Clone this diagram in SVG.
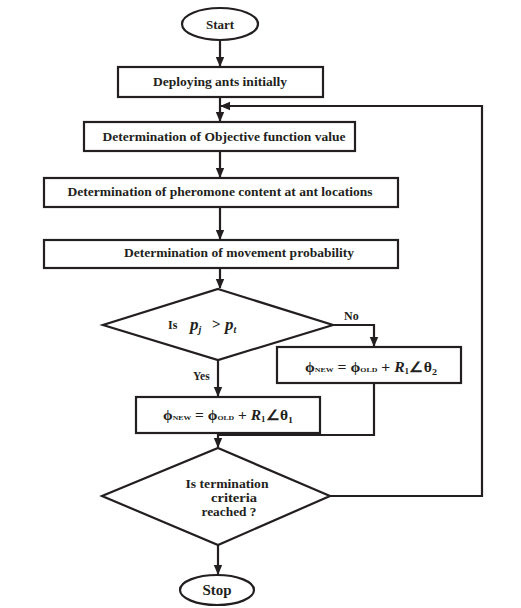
<svg xmlns="http://www.w3.org/2000/svg" width="521" height="608" viewBox="0 0 521 608">
<defs>
<marker id="ah" markerWidth="10" markerHeight="10" refX="9" refY="5" orient="auto" markerUnits="userSpaceOnUse">
<path d="M0,0.8 L10,5 L0,9.2 Z" fill="#231f20"/>
</marker>
<style>
.s{fill:#fff;stroke:#231f20;stroke-width:2.2}
.t{font-family:"Liberation Serif","Times New Roman",serif;font-weight:bold;font-size:11.5px;fill:#231f20;text-anchor:middle}
.c{fill:none;stroke:#231f20;stroke-width:2.2}
.m{font-family:"Liberation Serif","Times New Roman",serif;font-weight:bold;fill:#231f20}
</style>
</defs>
<rect width="521" height="608" fill="#fff"/>
<g id="connectors">
<path class="c" d="M220,40 V66" marker-end="url(#ah)"/>
<path class="c" d="M220,97 V121" marker-end="url(#ah)"/>
<path class="c" d="M220,151 V177" marker-end="url(#ah)"/>
<path class="c" d="M220,207 V239" marker-end="url(#ah)"/>
<path class="c" d="M220,268 V288" marker-end="url(#ah)"/>
<path class="c" d="M333,325 H374 V346" marker-end="url(#ah)"/>
<path class="c" d="M218,360 V396" marker-end="url(#ah)"/>
<path class="c" d="M374,383 V435 H218"/>
<path class="c" d="M218,433 V447" marker-end="url(#ah)"/>
<path class="c" d="M218,545 V574" marker-end="url(#ah)"/>
<path class="c" d="M330,496 H482 V106 H221" marker-end="url(#ah)"/>
</g>
<g id="start">
<ellipse class="s" cx="220" cy="24" rx="38" ry="16"/>
<text class="t" x="220" y="28.5" style="font-size:13px">Start</text>
</g>
<g id="deploy">
<rect class="s" x="118" y="67" width="205" height="30"/>
<text class="t" x="220" y="86" textLength="134" lengthAdjust="spacingAndGlyphs">Deploying ants initially</text>
</g>
<g id="objective">
<rect class="s" x="84" y="122" width="271" height="29"/>
<text class="t" x="224" y="141" textLength="243" lengthAdjust="spacingAndGlyphs">Determination of Objective function value</text>
</g>
<g id="pheromone">
<rect class="s" x="44" y="178" width="354" height="29"/>
<text class="t" x="220" y="196" textLength="305" lengthAdjust="spacingAndGlyphs">Determination of pheromone content at ant locations</text>
</g>
<g id="movement">
<rect class="s" x="44" y="240" width="354" height="28"/>
<text class="t" x="239" y="257" textLength="230" lengthAdjust="spacingAndGlyphs">Determination of movement probability</text>
</g>
<g id="decision1">
<polygon class="s" points="218,289 333,325 218,360 103,325"/>
<text class="m" x="168" y="329" font-size="12">Is</text>
<text class="m" x="190" y="330" font-size="17" font-style="italic">p<tspan font-size="10" dy="3">j</tspan></text>
<text class="m" x="212" y="329" font-size="15">&gt;</text>
<text class="m" x="225" y="330" font-size="17" font-style="italic">p<tspan font-size="10" dy="3">t</tspan></text>
<text class="m" x="344" y="320" font-size="12">No</text>
<text class="m" x="193" y="380" font-size="11.5">Yes</text>
</g>
<g id="update2">
<rect class="s" x="277" y="347" width="184" height="36"/>
<text class="m" x="305" y="372" font-size="14" textLength="132" lengthAdjust="spacingAndGlyphs">ϕ<tspan font-size="7">NEW</tspan> = ϕ<tspan font-size="7">OLD</tspan> + <tspan font-style="italic">R</tspan><tspan font-size="8" dy="2">1</tspan><tspan dy="-2">∠θ</tspan><tspan font-size="9" dy="3">2</tspan></text>
</g>
<g id="update1">
<rect class="s" x="136" y="397" width="184" height="36"/>
<text class="m" x="163" y="420" font-size="14" textLength="130" lengthAdjust="spacingAndGlyphs">ϕ<tspan font-size="7">NEW</tspan> = ϕ<tspan font-size="7">OLD</tspan> + <tspan font-style="italic">R</tspan><tspan font-size="8" dy="2">1</tspan><tspan dy="-2">∠θ</tspan><tspan font-size="9" dy="3">1</tspan></text>
</g>
<g id="decision2">
<polygon class="s" points="218,448 330,496 218,545 102,496" stroke-width="1.6"/>
<text class="t" x="227" y="488" textLength="83" lengthAdjust="spacingAndGlyphs">Is termination</text>
<text class="t" x="234" y="502" textLength="46" lengthAdjust="spacingAndGlyphs">criteria</text>
<text class="t" x="229" y="516" textLength="55" lengthAdjust="spacingAndGlyphs">reached ?</text>
</g>
<g id="stop">
<ellipse class="s" cx="217" cy="590" rx="37" ry="15"/>
<text class="t" x="217" y="595" style="font-size:15px">Stop</text>
</g>
</svg>
